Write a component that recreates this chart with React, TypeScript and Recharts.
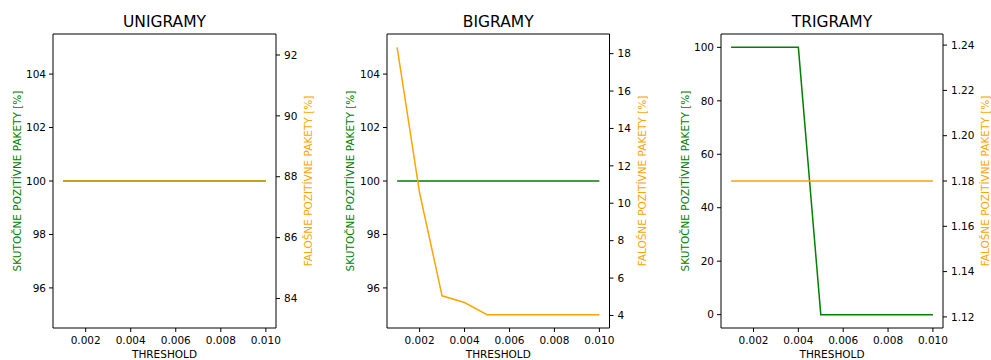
import React from 'react';
import { LineChart, Line, XAxis, YAxis, Label, ReferenceLine } from 'recharts';

const thresholds = [0.001, 0.002, 0.003, 0.004, 0.005, 0.006, 0.007, 0.008, 0.009, 0.01];

const uniTrue = [100, 100, 100, 100, 100, 100, 100, 100, 100, 100];
const uniFalse = [87.86, 87.86, 87.86, 87.86, 87.86, 87.86, 87.86, 87.86, 87.86, 87.86];

const biTrue = [100, 100, 100, 100, 100, 100, 100, 100, 100, 100];
const biFalse = [18.34, 10.56, 5.05, 4.69, 4.04, 4.04, 4.04, 4.04, 4.04, 4.04];

const triTrue = [100, 100, 100, 100, 0, 0, 0, 0, 0, 0];
const triFalse = [1.18, 1.18, 1.18, 1.18, 1.18, 1.18, 1.18, 1.18, 1.18, 1.18];

const xTicks = [0.002, 0.004, 0.006, 0.008, 0.01];
const titles = ['UNIGRAMY', 'BIGRAMY', 'TRIGRAMY'];
const leftLabel = 'SKUTOČNE POZITÍVNE PAKETY [%]';
const rightLabel = 'FALOŠNE POZITÍVNE PAKETY [%]';
const xLabel = 'THRESHOLD';

const GREEN = '#008000';
const ORANGE = '#ffa500';
const FONT = '"DejaVu Sans", Verdana, sans-serif';

const AXW = 50; // width of each y-axis area
const TOP = 34;
const BOTTOM = 328;
const H = 360;

type PanelProps = {
  title: string;
  left: number;
  right: number;
  trueVals: number[];
  falseVals: number[];
  leftDomain: [number, number];
  leftTicks: number[];
  rightDomain: [number, number];
  rightTicks: number[];
  rightFmt: (v: number) => string;
  leftLabelGap: number;
  rightLabelGap: number;
  orangeOpacity?: number;
};

const Panel: React.FC<PanelProps> = ({
  title, left, right, trueVals, falseVals,
  leftDomain, leftTicks, rightDomain, rightTicks, rightFmt,
  leftLabelGap, rightLabelGap, orangeOpacity = 1,
}) => {
  const plotW = right - left;
  const width = plotW + AXW * 2;
  const data = thresholds.map((t, i) => ({ t, tp: trueVals[i], fp: falseVals[i] }));
  const tickStyle = { fontSize: 10.5, fill: '#000', fontFamily: FONT };
  const midX = AXW + plotW / 2;
  const midY = (TOP + BOTTOM) / 2;
  const lx = AXW - leftLabelGap;
  const rx = AXW + plotW + rightLabelGap;

  return (
    <div style={{ position: 'absolute', left: left - AXW, top: 0 }}>
      <LineChart width={width} height={H} data={data} margin={{ top: TOP, right: 0, bottom: 0, left: 0 }}>
        <XAxis
          dataKey="t"
          type="number"
          domain={[0.00055, 0.01045]}
          ticks={xTicks}
          allowDataOverflow
          tickFormatter={(v: number) => v.toFixed(3)}
          height={H - BOTTOM}
          tickSize={4}
          tickMargin={5}
          tick={tickStyle}
          stroke="#000"
          axisLine={{ stroke: '#000', strokeWidth: 1 }}
        >
          <Label
            content={() => (
              <text x={midX} y={358} textAnchor="middle" fontSize={10.5} fontFamily={FONT} fill="#000">
                {xLabel}
              </text>
            )}
          />
        </XAxis>
        <YAxis
          yAxisId="l"
          orientation="left"
          width={AXW}
          domain={leftDomain}
          ticks={leftTicks}
          allowDataOverflow
          tickSize={4}
          tickMargin={3}
          tick={tickStyle}
          stroke="#000"
          axisLine={{ stroke: '#000', strokeWidth: 1 }}
        >
          <Label
            content={() => (
              <g>
                <text
                  x={lx}
                  y={midY}
                  transform={`rotate(-90, ${lx}, ${midY})`}
                  textAnchor="middle"
                  dominantBaseline="central"
                  fontSize={10.5}
                  fontFamily={FONT}
                  fill={GREEN}
                >
                  {leftLabel}
                </text>
                <text x={midX} y={26.5} textAnchor="middle" fontSize={15.5} fontFamily={FONT} fill="#000">
                  {title}
                </text>
              </g>
            )}
          />
        </YAxis>
        <YAxis
          yAxisId="r"
          orientation="right"
          width={AXW}
          domain={rightDomain}
          ticks={rightTicks}
          allowDataOverflow
          tickFormatter={rightFmt}
          tickSize={4}
          tickMargin={4}
          tick={tickStyle}
          stroke="#000"
          axisLine={{ stroke: '#000', strokeWidth: 1 }}
        >
          <Label
            content={() => (
              <text
                x={rx}
                y={midY}
                transform={`rotate(-90, ${rx}, ${midY})`}
                textAnchor="middle"
                dominantBaseline="central"
                fontSize={10.5}
                fontFamily={FONT}
                fill={ORANGE}
              >
                {rightLabel}
              </text>
            )}
          />
        </YAxis>
        <ReferenceLine yAxisId="l" y={leftDomain[1]} stroke="#000" strokeWidth={1} ifOverflow="extendDomain" />
        <Line
          yAxisId="l"
          dataKey="tp"
          type="linear"
          stroke={GREEN}
          strokeWidth={1.5}
          dot={false}
          isAnimationActive={false}
        />
        <Line
          yAxisId="r"
          dataKey="fp"
          type="linear"
          stroke={ORANGE}
          strokeWidth={1.5}
          strokeOpacity={orangeOpacity}
          dot={false}
          isAnimationActive={false}
        />
      </LineChart>
    </div>
  );
};

const f0 = (v: number) => String(Math.round(v));
const f2 = (v: number) => v.toFixed(2);

const App: React.FC = () => (
  <div style={{ position: 'absolute', left: 0, top: 0, width: 991, height: 360, background: '#fff', fontFamily: FONT }}>
    <Panel
      title={titles[0]}
      left={52.5}
      right={275.5}
      trueVals={uniTrue}
      falseVals={uniFalse}
      leftDomain={[94.5, 105.5]}
      leftTicks={[96, 98, 100, 102, 104]}
      rightDomain={[83.03, 92.69]}
      rightTicks={[84, 86, 88, 90, 92]}
      rightFmt={f0}
      leftLabelGap={36.5}
      rightLabelGap={31.5}
      orangeOpacity={0.95}
    />
    <Panel
      title={titles[1]}
      left={386.5}
      right={609}
      trueVals={biTrue}
      falseVals={biFalse}
      leftDomain={[94.5, 105.5]}
      leftTicks={[96, 98, 100, 102, 104]}
      rightDomain={[3.33, 19.05]}
      rightTicks={[4, 6, 8, 10, 12, 14, 16, 18]}
      rightFmt={f0}
      leftLabelGap={37.5}
      rightLabelGap={32}
    />
    <Panel
      title={titles[2]}
      left={720.5}
      right={942.5}
      trueVals={triTrue}
      falseVals={triFalse}
      leftDomain={[-5, 105]}
      leftTicks={[0, 20, 40, 60, 80, 100]}
      rightDomain={[1.1151, 1.2449]}
      rightTicks={[1.12, 1.14, 1.16, 1.18, 1.2, 1.22, 1.24]}
      rightFmt={f2}
      leftLabelGap={36}
      rightLabelGap={42}
    />
  </div>
);

export default App;
